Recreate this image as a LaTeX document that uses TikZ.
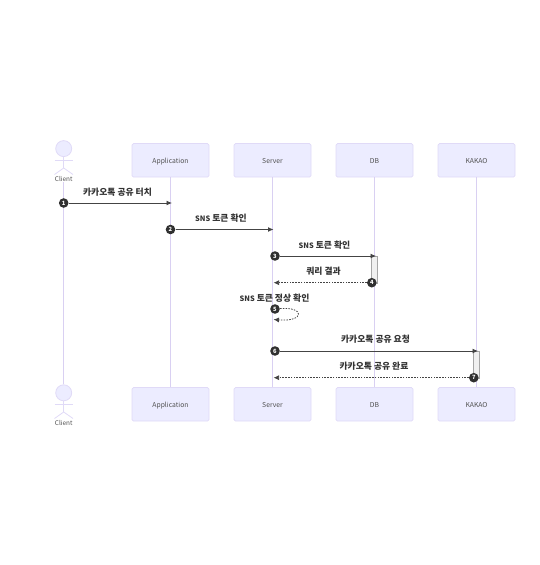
\documentclass[tikz,border=0pt]{standalone}
\usepackage{fontspec}
\setmainfont{Noto Sans CJK KR}
\usetikzlibrary{arrows.meta}
\definecolor{actfill}{HTML}{ECECFF}
\definecolor{actline}{HTML}{E0DAF7}
\definecolor{lifeline}{HTML}{D9D0F2}
\definecolor{ink}{HTML}{333333}
\definecolor{msg}{HTML}{444444}
\newcommand{\sns}{{\fontsize{7.4}{9}\selectfont SNS}}
\newcommand{\lowtxt}[1]{\raisebox{0pt}[6.4pt][1pt]{#1}}
\tikzset{
  x=1pt,y=-1pt,
  actorbox/.style={draw=actline,fill=actfill,line width=.7pt,rounded corners=1.5pt,minimum width=77pt,minimum height=33.5pt,inner sep=0pt,text=ink!85,font=\fontsize{6.8}{8}\selectfont},
  lifel/.style={draw=lifeline,line width=.8pt},
  stick/.style={draw=actline,line width=.8pt},
  head/.style={circle,draw=actline,fill=actfill,line width=.8pt,minimum size=16pt,inner sep=0pt},
  actorname/.style={text=ink!85,inner sep=0pt,font=\fontsize{6.4}{8}\selectfont},
  mlabel/.style={text=ink,inner sep=0pt,font=\fontsize{8.8}{10}\selectfont\bfseries},
  call/.style={draw=msg,line width=.9pt,-{Latex[length=5.5pt,width=5pt]}},
  reply/.style={draw=msg,line width=.75pt,dash pattern=on 1.6pt off 1.2pt,-{Latex[length=5.5pt,width=5pt]}},
  activ/.style={draw=gray!70,fill=gray!12,line width=.6pt},
  seq/.style={circle,fill=ink!95!black,text=white,minimum size=9.6pt,inner sep=0pt,font=\fontsize{5.8}{6}\selectfont\bfseries},
}
\begin{document}
\begin{tikzpicture}
\useasboundingbox (0,0) rectangle (540,565);
% actor boxes
\node[actorbox] (appT) at (170.5,160.3) {\lowtxt{Application}};
\node[actorbox] (srvT) at (272.5,160.3) {\lowtxt{Server}};
\node[actorbox] (dbT) at (374.5,160.3) {\lowtxt{DB}};
\node[actorbox] (kakT) at (476.5,160.3) {\lowtxt{KAKAO}};
\node[actorbox] (appB) at (170.5,404.3) {\lowtxt{Application}};
\node[actorbox] (srvB) at (272.5,404.3) {\lowtxt{Server}};
\node[actorbox] (dbB) at (374.5,404.3) {\lowtxt{DB}};
\node[actorbox] (kakB) at (476.5,404.3) {\lowtxt{KAKAO}};
% client figures
\node[head] (cliTh) at (63.7,148.6) {};
\node[actorname] (cliTl) at (63.7,179) {Client};
\node[head] (cliBh) at (63.7,392.8) {};
\node[actorname] (cliBl) at (63.7,423) {Client};
\coordinate (cliTn) at (63.7,168);
\coordinate (cliBn) at (63.7,412);
\draw[stick] (cliTh.south) -- (cliTn);
\draw[stick] (54.5,160) -- (73,160);
\draw[stick] (54.5,174.5) -- (cliTn) -- (73,174.5);
\draw[stick] (cliBh.south) -- (cliBn);
\draw[stick] (54.5,404) -- (73,404);
\draw[stick] (54.5,418.5) -- (cliBn) -- (73,418.5);
% lifelines
\draw[lifel] (cliTl.south) -- (cliBh.north);
\draw[lifel] (appT) -- (appB);
\draw[lifel] (srvT) -- (srvB);
\draw[lifel] (dbT) -- (dbB);
\draw[lifel] (kakT) -- (kakB);
% activations
\node[activ,minimum width=5.6pt,minimum height=27pt,inner sep=0pt] (actD) at (374.3,269.5) {};
\node[activ,minimum width=5.6pt,minimum height=27pt,inner sep=0pt] (actK) at (476.3,364.5) {};
% sequence markers
\node[seq] (s1) at (63.7,203) {1};
\node[seq] (s2) at (170.5,229.5) {2};
\node[seq] (s3) at (275,256) {3};
\node[seq] (s4) at (371.8,282.7) {4};
\node[seq] (s5) at (275,309) {5};
\node[seq] (s6) at (275,351) {6};
\node[seq] (s7) at (473.8,377.7) {7};
% arrow end points
\coordinate (e1) at (172,203);
\coordinate (e2) at (273.5,229.5);
\coordinate (e3) at (376,256);
\coordinate (e4) at (273.5,282.7);
\coordinate (e5) at (273.5,319.5);
\coordinate (e6) at (478,351);
\coordinate (e7) at (273.5,377.7);
% messages
\draw[call] (s1) -- (e1);
\draw[call] (s2) -- (e2);
\draw[call] (s3) -- (e3);
\draw[reply] (s4) -- (e4);
\draw[reply] (s5) .. controls (305,306.5) and (305,322) .. (e5);
\draw[call] (s6) -- (e6);
\draw[reply] (s7) -- (e7);
% labels
\node[mlabel] (m1) at (117.5,192) {카카오톡 공유 터치};
\node[mlabel] (m2) at (221,218.3) {\sns{} 토큰 확인};
\node[mlabel] (m3) at (324.5,245.1) {\sns{} 토큰 확인};
\node[mlabel] (m4) at (323.5,271.5) {쿼리 결과};
\node[mlabel] (m5) at (274.5,298.3) {\sns{} 토큰 정상 확인};
\node[mlabel] (m6) at (375.5,339.3) {카카오톡 공유 요청};
\node[mlabel] (m7) at (374,366.3) {카카오톡 공유 완료};
\end{tikzpicture}
\end{document}
